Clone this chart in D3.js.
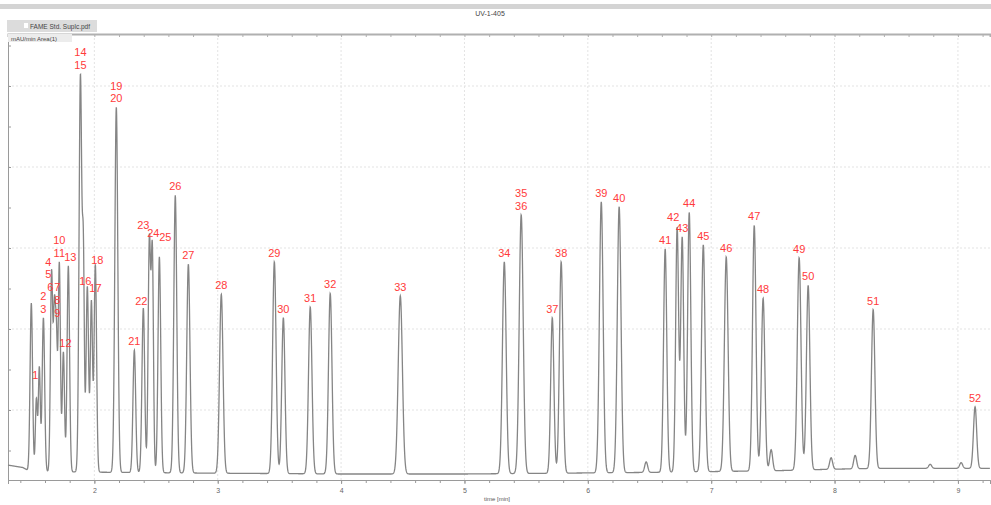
<!DOCTYPE html>
<html>
<head>
<meta charset="utf-8">
<script src="https://cdn.jsdelivr.net/npm/d3@7"></script>
<style>
  body { margin: 0; background: #fff; }
  svg { display: block; font-family: "Liberation Sans", Arial, sans-serif; }
</style>
</head>
<body>
<div id="chart"></div>
<script>
// peak table (time in min, apex signal, sigma in min)
const peakTimes = [1.489, 1.530, 1.554, 1.587, 1.652, 1.660, 1.676, 1.692, 1.716, 1.749, 1.789,
  1.887, 1.911, 1.943, 1.976, 2.008, 2.178, 2.324, 2.397, 2.446, 2.470,
  2.527, 2.656, 2.762, 3.029, 3.459, 3.532, 3.750, 3.912, 4.480, 5.323,
  5.460, 5.712, 5.784, 6.109, 6.254, 6.473, 6.627, 6.724, 6.765, 6.822,
  6.936, 7.122, 7.349, 7.421, 7.486, 7.713, 7.786, 7.972, 8.167, 8.313,
  8.775, 9.026, 9.139];
const peakHeights = [232, 115, 154, 214, 270, 241, 241, 214, 283, 172, 278,
  515, 320, 253, 236, 280, 474, 174, 226, 317, 307,
  289, 365, 280, 243, 283, 214, 227, 244, 241, 283,
  341, 214, 283, 357, 351, 36, 299, 326, 314, 344,
  304, 289, 328, 238, 51, 288, 254, 41, 44, 224,
  33, 35, 104];
const peakWidths = [0.010, 0.008, 0.008, 0.010, 0.009, 0.008, 0.008, 0.008, 0.009, 0.009, 0.010,
  0.011, 0.008, 0.010, 0.009, 0.010, 0.012, 0.011, 0.011, 0.010, 0.009,
  0.011, 0.012, 0.013, 0.014, 0.014, 0.013, 0.014, 0.014, 0.017, 0.015,
  0.016, 0.013, 0.014, 0.015, 0.015, 0.012, 0.013, 0.012, 0.012, 0.013,
  0.014, 0.015, 0.014, 0.014, 0.012, 0.015, 0.014, 0.012, 0.012, 0.014,
  0.012, 0.012, 0.013];
const peakLabels = ["", "", "1", "2\n3", "4\n5", "6", "7", "8\n9", "10\n11", "12", "13",
  "14\n15", "", "16", "17", "18", "19\n20", "21", "22", "23", "24",
  "25", "26", "27", "28", "29", "30", "31", "32", "33", "34",
  "35\n36", "37", "38", "39", "40", "", "41", "42", "43", "44",
  "45", "46", "47", "48", "", "49", "50", "", "", "51",
  "", "", "52"];

// baseline drift
const baseTimes = [1.3, 1.42, 1.48, 2.2, 3.0, 4.0, 5.0, 6.5, 7.5, 8.0, 8.4, 9.26];
const baseValues = [32, 29, 24, 23, 22, 21, 21, 23, 25, 27, 28, 28];

const xTicks = [2, 3, 4, 5, 6, 7, 8, 9];
const yTicks = [100, 200, 300, 400, 500];
const chartTitle = "UV-1-405";
const legendText = "FAME Std. Suplc.pdf";
const unitText = "mAU/min  Area(1)";
const xTitle = "time [min]";

const W = 991, H = 505;
const plotLeft = 8, plotRight = 990, plotTop = 34, plotBottom = 480;

// label nudges (px) where crowded labels were pushed aside
const labelNudge = {
  "1": [-4, 18], "4\n5": [-3, 11], "6": [-2, 0], "7": [3, 0], "8\n9": [1, 4],
  "12": [2, 0], "13": [2, 0], "16": [-2, 4], "17": [4, -3], "18": [2, 5],
  "22": [-2, 2], "23": [-6, 0], "24": [1, 0], "25": [6, -11], "42": [-4, -1]
};

const svg = d3.select("#chart").append("svg")
  .attr("width", W).attr("height", H);

const x = d3.scaleLinear().domain([1.3, 9.26]).range([plotLeft, plotRight]);
const y = d3.scaleLinear().domain([13.6, 564.2]).range([plotBottom, plotTop]);

const base = d3.scaleLinear().domain(baseTimes).range(baseValues);

// fit amplitudes so the summed trace hits the read apex values
let amps = peakHeights.map((h, i) => h - base(peakTimes[i]));
function model(t, a) {
  let s = base(t);
  for (let i = 0; i < peakTimes.length; i++) {
    const d = (t - peakTimes[i]) / peakWidths[i];
    if (Math.abs(d) < 8) s += a[i] * Math.exp(-0.5 * d * d);
  }
  return s;
}
for (let k = 0; k < 30; k++) {
  amps = amps.map((a, i) => Math.max(0, a + 0.5 * (peakHeights[i] - model(peakTimes[i], amps))));
}
const trace = d3.range(1.3, 9.26, 0.0015).map(t => [t, model(t, amps)]);

// top strip + title
svg.append("rect").attr("x", 0).attr("y", 4).attr("width", W).attr("height", 5).attr("fill", "#d4d4d4");
svg.append("text").attr("x", 490).attr("y", 16).attr("text-anchor", "middle")
  .attr("font-size", 7).attr("fill", "#444").text(chartTitle);

// grid
const grid = svg.append("g").attr("stroke", "#e3e3e3").attr("stroke-dasharray", "2,2");
grid.selectAll("line.v").data(xTicks).join("line").attr("class", "v")
  .attr("x1", d => x(d)).attr("x2", d => x(d)).attr("y1", plotTop).attr("y2", plotBottom);
grid.selectAll("line.h").data(yTicks).join("line").attr("class", "h")
  .attr("x1", plotLeft).attr("x2", plotRight).attr("y1", d => y(d)).attr("y2", d => y(d));

// axes
const xAxis = svg.append("g").attr("transform", `translate(0,${plotBottom})`)
  .call(d3.axisBottom(x).tickValues(d3.range(1.4, 9.25, 0.2)).tickSize(3).tickFormat(""));
xAxis.append("g").call(d3.axisBottom(x).tickValues(xTicks).tickSize(4).tickFormat(d3.format("d")));
xAxis.selectAll("path, line").attr("stroke", "#9a9a9a");
xAxis.selectAll("text").attr("fill", "#666").attr("font-size", 7).attr("dy", "0.9em");

const yAxis = svg.append("g").attr("transform", `translate(${plotLeft},0)`)
  .call(d3.axisLeft(y).tickValues(d3.range(50, 560, 50)).tickSize(-3).tickFormat(""));
yAxis.selectAll("path, line").attr("stroke", "#9a9a9a");

const topAxis = svg.append("g").attr("transform", `translate(0,${plotTop})`)
  .call(d3.axisTop(x).tickValues(d3.range(1.4, 9.25, 0.2)).tickSize(-3).tickFormat(""));
topAxis.selectAll("path, line").attr("stroke", "#b0b0b0");
topAxis.select("path").attr("stroke-width", 2);

svg.append("text").attr("x", 497).attr("y", 501).attr("text-anchor", "middle")
  .attr("font-size", 6).attr("fill", "#555").text(xTitle);

// legend boxes
svg.append("rect").attr("x", 7).attr("y", 20).attr("width", 90).attr("height", 12).attr("fill", "#dcdcdc");
svg.append("rect").attr("x", 24).attr("y", 23).attr("width", 4).attr("height", 5).attr("fill", "#fff");
svg.append("text").attr("x", 30).attr("y", 28.5).attr("font-size", 6.5).attr("fill", "#444").text(legendText);
svg.append("rect").attr("x", 8).attr("y", 34).attr("width", 64).attr("height", 8).attr("fill", "#ececec");
svg.append("text").attr("x", 11).attr("y", 40.5).attr("font-size", 6).attr("fill", "#444").text(unitText);

// trace
svg.append("path").datum(trace)
  .attr("fill", "none").attr("stroke", "#858585").attr("stroke-width", 1.3)
  .attr("d", d3.line().x(d => x(d[0])).y(d => y(d[1])));

// peak labels
const lab = svg.append("g").attr("fill", "#ff3b3b").attr("font-size", 11).attr("text-anchor", "middle");
peakTimes.forEach((t, i) => {
  if (!peakLabels[i]) return;
  const lines = peakLabels[i].split("\n");
  const [dx, dy] = labelNudge[peakLabels[i]] || [0, 0];
  const lx = x(t) + dx;
  const txt = lab.append("text").attr("x", lx)
    .attr("y", y(peakHeights[i]) - 5 - (lines.length - 1) * 12.5 + dy);
  lines.forEach((s, j) => txt.append("tspan").attr("x", lx).attr("dy", j ? 12.5 : 0).text(s));
});
</script>
</body>
</html>
